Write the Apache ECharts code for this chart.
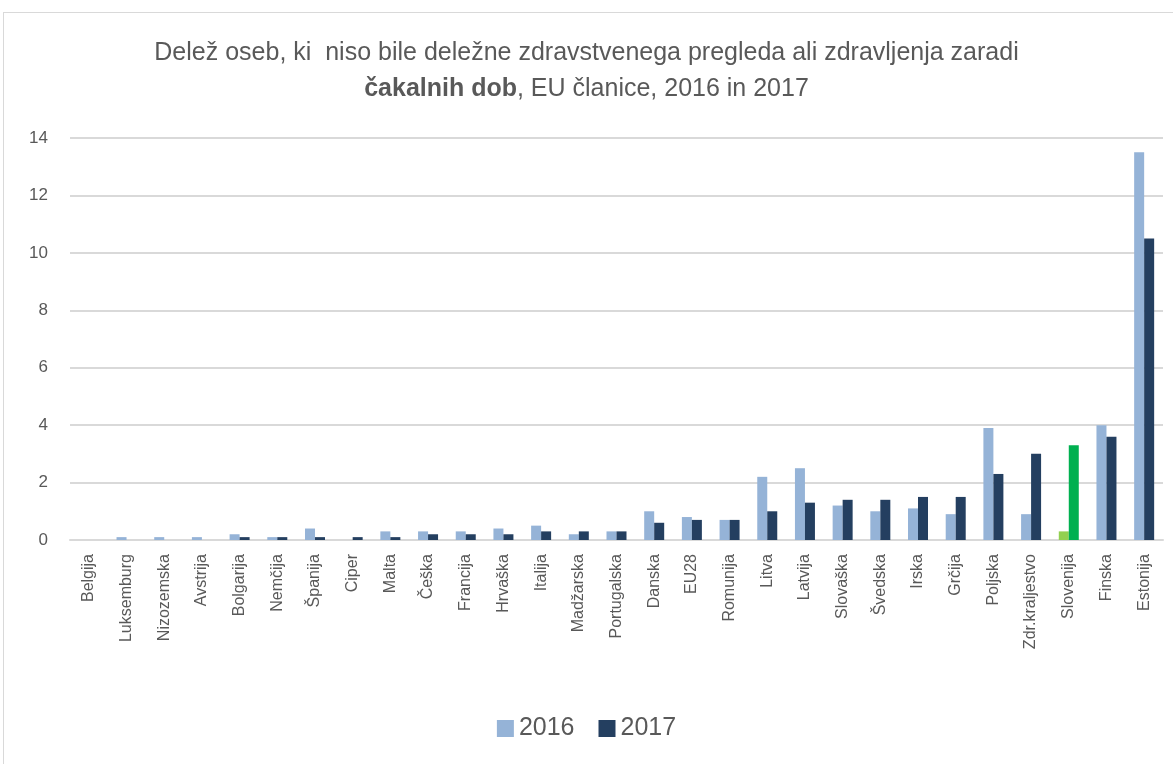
<!DOCTYPE html>
<html>
<head>
<meta charset="utf-8">
<script src="https://cdn.jsdelivr.net/npm/echarts@6/dist/echarts.min.js"></script>
<style>
html,body{margin:0;padding:0;background:#fff;}
#frame{position:absolute;left:3px;top:12px;width:1200px;height:800px;border:1px solid #d9d9d9;}
#chart{position:absolute;left:0;top:0;width:1173px;height:764px;}
</style>
</head>
<body>
<div id="frame"></div>
<div id="chart"></div>
<script>
const categories = ["Belgija","Luksemburg","Nizozemska","Avstrija","Bolgarija","Nemčija","Španija","Ciper","Malta","Češka","Francija","Hrvaška","Italija","Madžarska","Portugalska","Danska","EU28","Romunija","Litva","Latvija","Slovaška","Švedska","Irska","Grčija","Poljska","Zdr.kraljestvo","Slovenija","Finska","Estonija"];
const values2016 = [0,0.1,0.1,0.1,0.2,0.1,0.4,0,0.3,0.3,0.3,0.4,0.5,0.2,0.3,1.0,0.8,0.7,2.2,2.5,1.2,1.0,1.1,0.9,3.9,0.9,0.3,4.0,13.5];
const values2017 = [0,0,0,0,0.1,0.1,0.1,0.1,0.1,0.2,0.2,0.2,0.3,0.3,0.3,0.6,0.7,0.7,1.0,1.3,1.4,1.4,1.5,1.5,2.3,3.0,3.3,3.6,10.5];
const yTicks = [0,2,4,6,8,10,12,14];
const highlight = "Slovenija";

const c16 = '#95b3d7', c17 = '#243f60';
const h16 = '#92d050', h17 = '#00b050';

function build(vals, hl){
  return vals.map((v,i)=> categories[i]===highlight ? {value:v,itemStyle:{color:hl}} : v);
}

const chart = echarts.init(document.getElementById('chart'));
chart.setOption({
  animation:false,
  title:{
    left:'center', top:30,
    text:'{n|Delež oseb, ki  niso bile deležne zdravstvenega pregleda ali zdravljenja zaradi}\n{b|čakalnih dob}{n|, EU članice, 2016 in 2017}',
    textStyle:{
      fontWeight:'normal',
      rich:{
        n:{fontFamily:'Liberation Sans',fontSize:25,color:'#595959',fontWeight:'normal',lineHeight:36},
        b:{fontFamily:'Liberation Sans',fontSize:25,color:'#595959',fontWeight:'bold',lineHeight:36}
      }
    }
  },
  legend:{
    bottom:18, left:'center',
    itemWidth:17, itemHeight:17, itemGap:24,
    textStyle:{fontFamily:'Liberation Sans',fontSize:25,color:'#595959'},
    data:[{name:'2016',icon:'rect'},{name:'2017',icon:'rect'}]
  },
  grid:{left:70,right:10,top:138,bottom:224,containLabel:false},
  xAxis:{
    type:'category', data:categories,
    axisLine:{lineStyle:{color:'#d9d9d9',width:2}},
    axisTick:{show:false},
    axisLabel:{rotate:90,interval:0,margin:14,fontFamily:'Liberation Sans',fontSize:16,color:'#595959'}
  },
  yAxis:{
    type:'value', min:yTicks[0], max:yTicks[yTicks.length-1], interval:2,
    axisLine:{show:false}, axisTick:{show:false},
    splitLine:{lineStyle:{color:'#d9d9d9',width:2}},
    axisLabel:{margin:22,fontFamily:'Liberation Sans',fontSize:17,color:'#595959'}
  },
  series:[
    {name:'2016',type:'bar',data:build(values2016,h16),itemStyle:{color:c16},barWidth:10,barGap:'0%'},
    {name:'2017',type:'bar',data:build(values2017,h17),itemStyle:{color:c17},barWidth:10,barGap:'0%'}
  ]
});
</script>
</body>
</html>
